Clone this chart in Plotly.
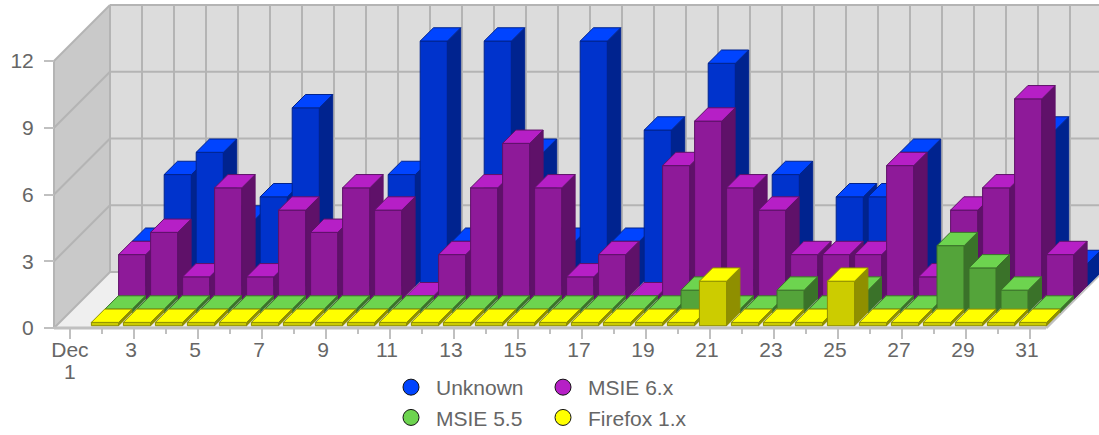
import plotly.graph_objects as go

# ---- data -------------------------------------------------------------
days = list(range(2, 32))
unknown = [2, 5, 6, 3, 4, 8, 0, 0, 5, 11, 2, 11, 6, 2, 11, 2, 7, 0, 10, 0, 5, 0, 4, 4, 6, 0, 0, 0, 7, 1]
msie6 = [2, 3, 1, 5, 1, 4, 3, 5, 4, 0, 2, 5, 7, 5, 1, 2, 0, 6, 8, 5, 4, 2, 2, 2, 6, 1, 4, 5, 9, 2]
msie55 = [0, 0, 0, 0, 0, 0, 0, 0, 0, 0, 0, 0, 0, 0, 0, 0, 0, 0, 1, 0, 0, 1, 0, 1, 0, 0, 3, 2, 1, 0]
firefox = [0, 0, 0, 0, 0, 0, 0, 0, 0, 0, 0, 0, 0, 0, 0, 0, 0, 0, 0, 2, 0, 0, 0, 2, 0, 0, 0, 0, 0, 0]
x_tick_vals = list(range(1, 32, 2))
x_tick_text = ["\u00a0Dec"] + [str(d) for d in range(3, 32, 2)]
x_minor_vals = list(range(2, 31, 2))
y_tick_vals = [0, 3, 6, 9, 12]

# ---- styles (back to front) --------------------------------------------
series = [
    ("Unknown", unknown, 3, "#0033cc", "#0044ff", "#00238f"),
    ("MSIE 6.x", msie6, 2, "#8e1a99", "#b61fc6", "#5f1169"),
    ("MSIE 5.5", msie55, 1, "#54a43a", "#6dd44f", "#3a7229"),
    ("Firefox 1.x", firefox, 0, "#cccc00", "#ffff00", "#8f8f00"),
]
W, H = 1099, 445                        # 10px taller than the window: room for the legend box
PX_DAY, PX_VAL = 32.0, 22.25
ZERO_PX_X, ZERO_PX_Y = 70.0, 328.0      # pixel of day 1 / value 0
WALL = 56.0                             # chart depth in pixels
BAR_W, BAR_D = 27.2, 13.3
MIN_H = 3.3 / PX_VAL
TEXT = "#666666"
FONT = "Liberation Sans"


def pt(day, val, depth=0.0, dx=0.0):
    """oblique projection: day/value plus pixel depth, in axis units"""
    return day + (depth + dx) / PX_DAY, val + depth / PX_VAL


def poly(points, fill, line, width=1.0):
    xs, ys = zip(*(points + points[:1]))
    return go.Scatter(x=xs, y=ys, mode="lines", fill="toself", fillcolor=fill,
                      line=dict(color=line, width=width), hoverinfo="skip", showlegend=False)


def segs(pairs, color, width):
    xs, ys = [], []
    for a, b in pairs:
        xs += [a[0], b[0], None]
        ys += [a[1], b[1], None]
    return go.Scatter(x=xs, y=ys, mode="lines", line=dict(color=color, width=width),
                      hoverinfo="skip", showlegend=False)


fig = go.Figure()
L, R = 0.5, 31.5
TOP = 12
# floor, back wall, left wall
fig.add_trace(poly([pt(L, 0), pt(R, 0), pt(R, 0, WALL), pt(L, 0, WALL)], "#efefef", "#efefef"))
fig.add_trace(poly([pt(L, 0, WALL), pt(R, 0, WALL), pt(R, TOP, WALL), pt(L, TOP, WALL)], "#dcdcdc", "#dcdcdc"))
fig.add_trace(poly([pt(L, 0), pt(L, 0, WALL), pt(L, TOP, WALL), pt(L, TOP)], "#c9c9c9", "#c9c9c9"))
grid = []
for k in range(32):
    grid.append((pt(L + k, 0, WALL), pt(L + k, TOP, WALL)))
for v in y_tick_vals:
    grid.append((pt(L, v, WALL), pt(R, v, WALL)))
    grid.append((pt(L, v), pt(L, v, WALL)))
grid.append((pt(L, 0), pt(L, TOP)))
fig.add_trace(segs(grid, "#b4b4b4", 2))
fig.add_trace(segs([(pt(L, 0), pt(R, 0)), (pt(R, 0), pt(R, 0, WALL))], "#c0c0c0", 3))

# 3-D columns, back series first, left to right
for name, vals, k, front, top, side in series:
    dep = 2.3 + 13.3 * k
    dx = 13.6 * k - dep + 3.0
    half = BAR_W / 2 / PX_DAY
    for d, v in zip(days, vals):
        h = max(v, MIN_H)
        a, b = d - half, d + half
        fig.add_trace(poly([pt(a, 0, dep, dx), pt(b, 0, dep, dx), pt(b, h, dep, dx), pt(a, h, dep, dx)], front, side))
        fig.add_trace(poly([pt(b, 0, dep, dx), pt(b, 0, dep + BAR_D, dx), pt(b, h, dep + BAR_D, dx), pt(b, h, dep, dx)], side, side))
        fig.add_trace(poly([pt(a, h, dep, dx), pt(b, h, dep, dx), pt(b, h, dep + BAR_D, dx), pt(a, h, dep + BAR_D, dx)], top, side))

# legend entries in two columns
for name, vals, k, front, top, side in series:
    fig.add_trace(go.Scatter(x=[None], y=[None], mode="markers", name=name,
                             legend="legend" if name in ("Unknown", "MSIE 5.5") else "legend2",
                             marker=dict(size=16, color=top, line=dict(color="#111111", width=1))))

leg = dict(font=dict(family=FONT, size=21, color=TEXT), bgcolor="rgba(0,0,0,0)", borderwidth=0,
           orientation="v", xanchor="left", yanchor="top", itemsizing="trace", itemwidth=40,
           itemclick=False, itemdoubleclick=False)
fig.update_layout(
    width=W, height=H, margin=dict(l=0, r=0, t=0, b=0), autosize=False,
    paper_bgcolor="white", plot_bgcolor="white", showlegend=True,
    font=dict(family=FONT, size=21, color=TEXT),
    legend=dict(leg, x=386 / W, y=1 - 367 / H),
    legend2=dict(leg, x=538 / W, y=1 - 367 / H),
    xaxis=dict(range=[1 - ZERO_PX_X / PX_DAY, 1 + (W - ZERO_PX_X) / PX_DAY], domain=[0, 1],
               anchor="free", position=(H - ZERO_PX_Y) / H, showgrid=False, zeroline=False, showline=False,
               tickmode="array", tickvals=x_tick_vals, ticktext=x_tick_text, ticks="outside",
               ticklen=10, tickwidth=2, tickcolor="#c0c0c0", ticklabelshift=-3, ticklabelstandoff=-7,
               tickfont=dict(family=FONT, size=21, color=TEXT),
               minor=dict(tickmode="array", tickvals=x_minor_vals, ticks="outside", ticklen=5,
                          tickwidth=2, tickcolor="#c0c0c0", showgrid=False)),
    yaxis=dict(range=[(ZERO_PX_Y - H) / PX_VAL, ZERO_PX_Y / PX_VAL], domain=[0, 1],
               anchor="free", position=(ZERO_PX_X - 16) / W, showgrid=False, zeroline=False, showline=False,
               tickmode="array", tickvals=y_tick_vals, ticks="outside", ticklen=10, tickwidth=2,
               tickcolor="#c0c0c0", ticklabelstandoff=6,
               tickfont=dict(family=FONT, size=21, color=TEXT)),
    annotations=[dict(x=1, y=-43.7 / PX_VAL, xref="x", yref="y", text="1", showarrow=False,
                      font=dict(family=FONT, size=21, color=TEXT))],
)
fig.write_html("out.html", config=dict(displayModeBar=False),
               post_script="document.body.style.margin='0';document.documentElement.style.overflow='hidden';")
